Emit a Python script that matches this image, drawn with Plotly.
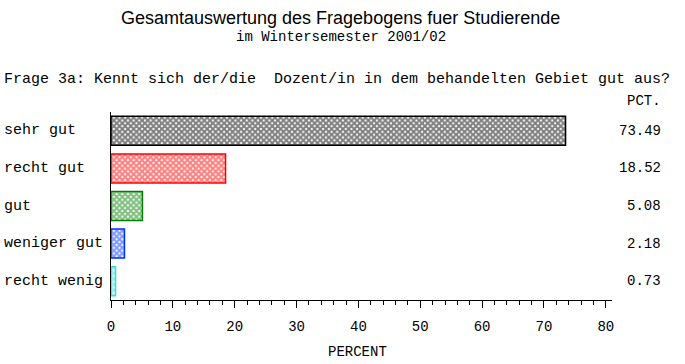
import plotly.graph_objects as go

categories = ["sehr gut", "recht gut", "gut", "weniger gut", "recht wenig"]
percent = [73.49, 18.52, 5.08, 2.18, 0.73]
pct_labels = ["73.49", "18.52", "5.08", "2.18", "0.73"]
colors = ["#000000", "#ff0000", "#008000", "#0033ff", "#33dddd"]
x_ticks = [0, 10, 20, 30, 40, 50, 60, 70, 80]

W, H = 685, 364
L, R, T, B = 111, 73, 112, 64
mono = "Liberation Mono, Courier New, monospace"

fig = go.Figure()
fig.add_trace(go.Bar(
    y=categories, x=percent, orientation="h",
    width=0.77,
    marker=dict(color="white",
                line=dict(color=colors, width=1.5),
                pattern=dict(shape="x", fgcolor=colors, bgcolor="white",
                             size=4, solidity=0.75, fillmode="overlay")),
    showlegend=False, hoverinfo="skip",
))

def px_to_paper_x(px):
    return (px - L) / (W - L - R)

def px_to_paper_y(py):
    return 1 - (py - T) / (H - T - B)

ann = []
for c in categories:
    ann.append(dict(x=px_to_paper_x(2), xref="paper", y=c, yref="y",
                    text=c, showarrow=False, xanchor="left", yanchor="middle",
                    font=dict(family=mono, size=15, color="black")))
for c, t in zip(categories, pct_labels):
    ann.append(dict(x=px_to_paper_x(663), xref="paper", y=c, yref="y",
                    text=t, showarrow=False, xanchor="right", yanchor="middle",
                    font=dict(family=mono, size=14, color="black")))
ann.append(dict(x=px_to_paper_x(663), xref="paper", y=px_to_paper_y(101), yref="paper",
                text="PCT.", showarrow=False, xanchor="right", yanchor="middle",
                font=dict(family=mono, size=14, color="black")))
ann.append(dict(x=px_to_paper_x(2), xref="paper", y=px_to_paper_y(79), yref="paper",
                text="Frage 3a: Kennt sich der/die  Dozent/in in dem behandelten Gebiet gut aus?",
                showarrow=False, xanchor="left", yanchor="middle",
                font=dict(family=mono, size=15, color="black")))
ann.append(dict(x=px_to_paper_x(340), xref="paper", y=px_to_paper_y(18), yref="paper",
                text="Gesamtauswertung des Fragebogens fuer Studierende",
                showarrow=False, xanchor="center", yanchor="middle",
                font=dict(family="Liberation Sans, Arial, sans-serif", size=18, color="black")))
ann.append(dict(x=px_to_paper_x(341), xref="paper", y=px_to_paper_y(37), yref="paper",
                text="im Wintersemester 2001/02",
                showarrow=False, xanchor="center", yanchor="middle",
                font=dict(family=mono, size=14, color="black")))
ann.append(dict(x=px_to_paper_x(357), xref="paper", y=px_to_paper_y(352), yref="paper",
                text="PERCENT",
                showarrow=False, xanchor="center", yanchor="middle",
                font=dict(family=mono, size=14, color="black")))

fig.update_layout(
    width=W, height=H,
    margin=dict(l=L, r=R, t=T, b=B),
    paper_bgcolor="white", plot_bgcolor="white",
    annotations=ann,
    xaxis=dict(range=[0, 81], tickvals=x_ticks, ticktext=[str(v) for v in x_ticks],
               showline=True, linecolor="black", linewidth=1,
               ticks="outside", ticklen=7, tickcolor="black", tickwidth=1,
               minor=dict(dtick=2, tick0=0, ticks="outside", ticklen=4, tickcolor="black"),
               showgrid=False, zeroline=False,
               tickfont=dict(family=mono, size=14, color="black"), ticklabelstandoff=6),
    yaxis=dict(categoryorder="array", categoryarray=categories[::-1],
               range=[-0.5, 4.5], showline=True, linecolor="black", linewidth=1,
               showticklabels=False, ticks="", showgrid=False, zeroline=False),
)

fig.write_html("out.html")
